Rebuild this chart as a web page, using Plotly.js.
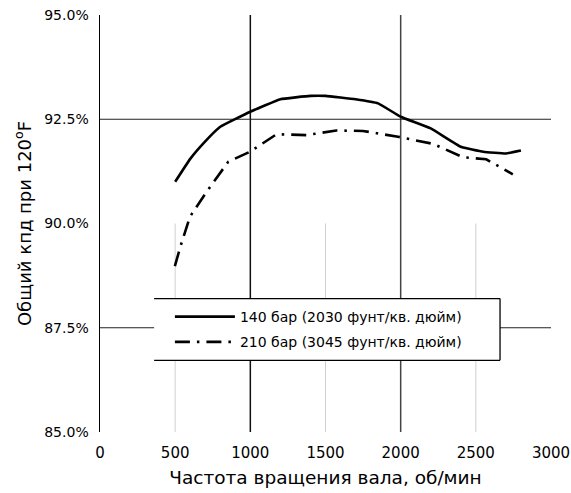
<!DOCTYPE html>
<html><head><meta charset="utf-8">
<script src="https://cdn.plot.ly/plotly-3.0.1.min.js"></script>
<style>html,body{margin:0;padding:0;background:#fff}#chart{width:571px;height:493px}</style>
</head><body><div id="chart"></div>
<script>
// Data
const rpm140 = [500, 600, 700, 800, 1000, 1200, 1400, 1500, 1700, 1850, 2000, 2200, 2400, 2550, 2700, 2800];
const eff140 = [91.0, 91.55, 91.97, 92.32, 92.68, 92.98, 93.06, 93.06, 92.98, 92.88, 92.56, 92.28, 91.84, 91.72, 91.68, 91.75];
const rpm210 = [498, 536, 598, 709, 853, 997, 1174, 1373, 1572, 1749, 1982, 2215, 2414, 2569, 2746];
const eff210 = [88.98, 89.46, 90.16, 90.76, 91.48, 91.72, 92.14, 92.12, 92.23, 92.22, 92.08, 91.91, 91.59, 91.54, 91.18];
const seriesNames = ["140 бар (2030 фунт/кв. дюйм)", "210 бар (3045 фунт/кв. дюйм)"];
const xTicks = [0, 500, 1000, 1500, 2000, 2500, 3000];
const yTicks = [85, 87.5, 90, 92.5, 95];
const yTickText = ["85.0%", "87.5%", "90.0%", "92.5%", "95.0%"];
const majorGridX = [1000, 2000];
const minorGridX = [500, 1500, 2500];
const majorGridY = [87.5, 92.5];

const font = "DejaVu Sans, Verdana, sans-serif";

const traces = [
  {x: rpm140, y: eff140, name: seriesNames[0], mode: "lines", legendgroup: "a",
   line: {color: "#000", width: 2.6, shape: "spline", smoothing: 0.3}},
  {x: rpm210, y: eff210, name: seriesNames[1], mode: "lines", legendgroup: "b",
   line: {color: "#000", width: 2.6, dash: "15px,7px,2.5px,7px"}}
];

const shapes = [];
majorGridX.forEach((v, i) => shapes.push({type: "line", xref: "x", yref: "y", x0: v, x1: v, y0: 85, y1: 95,
  line: {color: i === 0 ? "#111" : "#444", width: 1.5}, layer: "below"}));
minorGridX.forEach(v => shapes.push({type: "line", xref: "x", yref: "y", x0: v, x1: v, y0: 85, y1: 90,
  line: {color: "#d0d0d0", width: 1}, layer: "below"}));
majorGridY.forEach(v => shapes.push({type: "line", xref: "x", yref: "y", x0: 0, x1: 3000, y0: v, y1: v,
  line: {color: "#222", width: 1.2}, layer: "below"}));
// legend box (no left edge, as in the reference)
shapes.push({type: "rect", xref: "paper", yref: "paper", x0: 0.12, x1: 0.887, y0: 0.172, y1: 0.32,
  fillcolor: "#fff", line: {width: 0}, layer: "above"});
shapes.push({type: "line", xref: "paper", yref: "paper", x0: 0.12, x1: 0.887, y0: 0.32, y1: 0.32,
  line: {color: "#000", width: 1.3}, layer: "above"});
shapes.push({type: "line", xref: "paper", yref: "paper", x0: 0.887, x1: 0.887, y0: 0.172, y1: 0.32,
  line: {color: "#000", width: 1.3}, layer: "above"});
shapes.push({type: "line", xref: "paper", yref: "paper", x0: 0.12, x1: 0.887, y0: 0.172, y1: 0.172,
  line: {color: "#000", width: 1.3}, layer: "above"});

const layout = {
  width: 571, height: 493,
  margin: {l: 100, r: 20, t: 15, b: 61},
  paper_bgcolor: "#fff", plot_bgcolor: "#fff",
  font: {family: font, color: "#000", size: 15},
  showlegend: true,
  legend: {x: 0.155, y: 0.314, xanchor: "left", yanchor: "top", bgcolor: "rgba(0,0,0,0)",
    borderwidth: 0, font: {size: 14, family: font}, itemwidth: 60,
    traceorder: "grouped", tracegroupgap: 4},
  xaxis: {range: [0, 3000], tickvals: xTicks, showgrid: false, zeroline: false, showline: false,
    ticks: "", tickfont: {size: 15}, ticklabelstandoff: 10,
    title: {text: "Частота вращения вала, об/мин", font: {size: 18.5}, standoff: 10}},
  yaxis: {range: [85, 95], tickvals: yTicks, ticktext: yTickText, showgrid: false, zeroline: false,
    showline: true, linecolor: "#000", linewidth: 1.5, ticks: "", tickfont: {size: 14},
    ticklabelstandoff: 7,
    title: {text: "Общий кпд при 120<sup>o</sup>F", font: {size: 18}, standoff: 8}},
  shapes: shapes
};

Plotly.newPlot("chart", traces, layout, {displayModeBar: false, staticPlot: true});
</script></body></html>
